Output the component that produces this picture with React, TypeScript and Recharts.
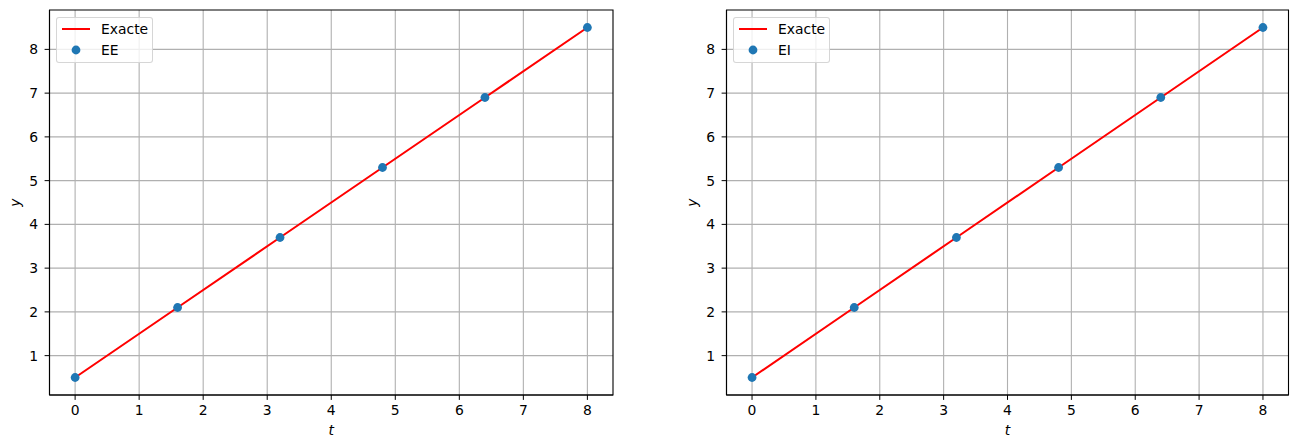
import { CartesianGrid, ComposedChart, Legend, Line, ReferenceArea, XAxis, YAxis } from "recharts"

const tValues = [0, 1.6, 3.2, 4.8, 6.4, 8]
const exactValues = [0.5, 2.1, 3.7, 5.3, 6.9, 8.5]
const eeValues = [0.5, 2.1, 3.7, 5.3, 6.9, 8.5]
const eiValues = [0.5, 2.1, 3.7, 5.3, 6.9, 8.5]
const xTicks = [0, 1, 2, 3, 4, 5, 6, 7, 8]
const yTicks = [1, 2, 3, 4, 5, 6, 7, 8]

const X_DOMAIN: [number, number] = [-0.4, 8.4]
const Y_DOMAIN: [number, number] = [0.1, 8.9]

const FONT = "'DejaVu Sans', sans-serif"
const FS = 13.9
const RED = "#ff0000"
const BLUE = "#1f77b4"

function buildRows(values: number[]) {
  return tValues.map((t, i) => ({ t, exact: exactValues[i], approx: values[i] }))
}

function LegendBox({ approxName }: { approxName: string }) {
  return (
    <div
      style={{
        width: 95,
        height: 44,
        border: "1px solid rgba(204,204,204,0.8)",
        borderRadius: 3,
        background: "rgba(255,255,255,0.8)",
        fontFamily: FONT,
        fontSize: FS,
        color: "#000",
        position: "relative",
      }}
    >
      <svg width={40} height={44} style={{ position: "absolute", left: 0, top: 0 }}>
        <line x1={5} x2={33} y1={11} y2={11} stroke={RED} strokeWidth={2} />
        <circle cx={19} cy={32} r={4.4} fill={BLUE} />
      </svg>
      <span style={{ position: "absolute", left: 44, top: 2, lineHeight: "18px" }}>Exacte</span>
      <span style={{ position: "absolute", left: 44, top: 23, lineHeight: "18px" }}>{approxName}</span>
    </div>
  )
}

function YLabel(props: any) {
  const vb = props.viewBox
  const cy = vb.y + vb.height / 2
  return (
    <text
      x={15}
      y={cy}
      transform={`rotate(-90, 15, ${cy})`}
      textAnchor="middle"
      dominantBaseline="central"
      fontFamily={FONT}
      fontSize={FS}
      fontStyle="italic"
      fill="#000"
    >
      y
    </text>
  )
}

function XLabel(props: any) {
  const vb = props.viewBox
  return (
    <text
      x={vb.x + vb.width / 2}
      y={430}
      textAnchor="middle"
      dominantBaseline="central"
      fontFamily={FONT}
      fontSize={FS}
      fontStyle="italic"
      fill="#000"
    >
      t
    </text>
  )
}

function Panel({ values, name, width, marginRight }: { values: number[]; name: string; width: number; marginRight: number }) {
  const tick = { fontFamily: FONT, fontSize: FS, fill: "#000" }
  return (
    <ComposedChart
      width={width}
      height={448}
      data={buildRows(values)}
      margin={{ top: 10, right: marginRight, bottom: 0, left: 0 }}
    >
      <CartesianGrid stroke="#b0b0b0" strokeWidth={1.1} verticalValues={xTicks} horizontalValues={yTicks} />
      <XAxis
        dataKey="t"
        type="number"
        domain={X_DOMAIN}
        ticks={xTicks}
        height={53}
        tick={tick}
        tickSize={4.9}
        tickMargin={5}
        stroke="#000"
        tickLine={{ stroke: "#000" }}
        axisLine={{ stroke: "#000", strokeWidth: 1.1 }}
        label={<XLabel />}
      />
      <YAxis
        type="number"
        domain={Y_DOMAIN}
        ticks={yTicks}
        width={49.5}
        tick={tick}
        tickSize={4.9}
        tickMargin={6.5}
        stroke="#000"
        tickLine={{ stroke: "#000" }}
        axisLine={{ stroke: "#000", strokeWidth: 1.1 }}
        label={<YLabel />}
      />
      <Line
        dataKey="exact"
        type="linear"
        stroke={RED}
        strokeWidth={2.08}
        dot={false}
        isAnimationActive={false}
      />
      <Line
        dataKey="approx"
        type="linear"
        stroke="none"
        dot={{ r: 4.4, fill: BLUE, stroke: "none", fillOpacity: 1 }}
        isAnimationActive={false}
      />
      <ReferenceArea
        x1={X_DOMAIN[0]}
        x2={X_DOMAIN[1]}
        y1={Y_DOMAIN[0]}
        y2={Y_DOMAIN[1]}
        fill="none"
        fillOpacity={0}
        stroke="#000"
        strokeWidth={1.1}
        strokeOpacity={1}
      />
      <Legend
        layout="horizontal"
        verticalAlign="middle"
        wrapperStyle={{ position: "absolute", left: 56, top: 17, width: "auto" }}
        content={() => <LegendBox approxName={name} />}
      />
    </ComposedChart>
  )
}

export default function App() {
  return (
    <div style={{ position: "relative", width: 1299, height: 448, background: "#fff", overflow: "hidden" }}>
      <style>{`body{margin:0}`}</style>
      <div style={{ position: "absolute", left: 0, top: 0 }}>
        <Panel values={eeValues} name="EE" width={640} marginRight={27} />
      </div>
      <div style={{ position: "absolute", left: 677, top: 0 }}>
        <Panel values={eiValues} name="EI" width={622} marginRight={10.5} />
      </div>
    </div>
  )
}
